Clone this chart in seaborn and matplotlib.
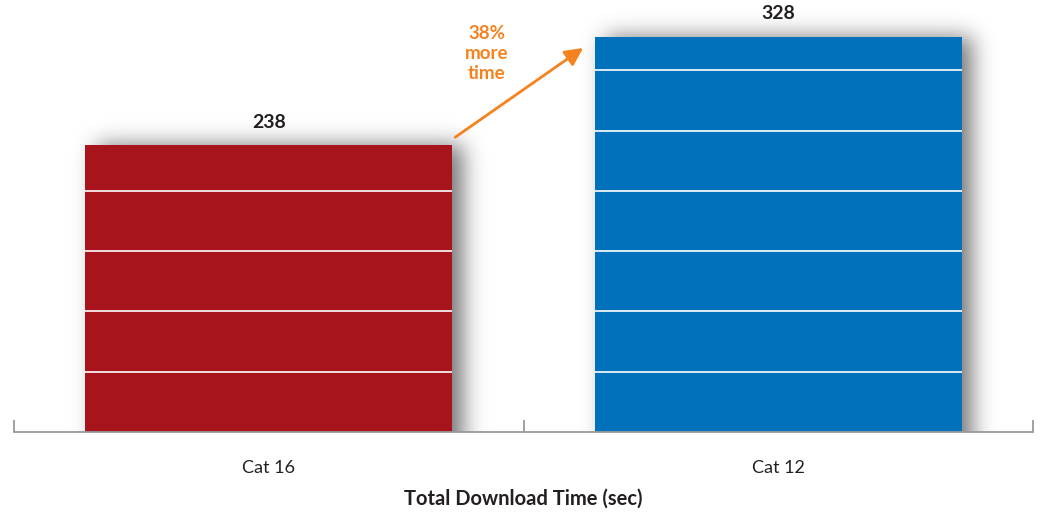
import numpy as np
import pandas as pd
import matplotlib
matplotlib.use("Agg")
import matplotlib.pyplot as plt
import seaborn as sns

# Data
categories = ["Cat 16", "Cat 12"]
download_times = [238, 328]
bar_colors = ["#A8141B", "#0071BA"]
increase_label = "38%\nmore\ntime"
x_title = "Total Download Time (sec)"

sns.set_theme(style="white")
plt.rcParams["font.family"] = ["Lato", "DejaVu Sans"]

W, H, DPI = 1044, 513, 100
fig = plt.figure(figsize=(W / DPI, H / DPI), dpi=DPI)
ax_left, ax_right, ax_bottom, ax_top = 14, 1033, 432, 10
ax = fig.add_axes([ax_left / W, (H - ax_bottom) / H,
                   (ax_right - ax_left) / W, (ax_bottom - ax_top) / H])

df = pd.DataFrame({"category": categories, "time": download_times})
bar_width = 0.72
sns.barplot(data=df, x="category", y="time", hue="category",
            palette=bar_colors, width=bar_width, legend=False,
            saturation=1, linewidth=0, edgecolor="none", ax=ax, zorder=3)

ymax = 350
ax.set_xlim(-0.5, 1.5)
ax.set_ylim(0, ymax)

# Soft drop shadow behind each bar (blurred offset rectangle)
nx, ny = ax_right - ax_left, ax_bottom - ax_top
xs = np.linspace(-0.5, 1.5, nx)
ys = np.linspace(ymax, 0, ny)
px_per_x = nx / 2.0
px_per_y = ny / ymax
mask = np.zeros((ny, nx))
off_px = 11
for i, v in enumerate(download_times):
    x0 = i - bar_width / 2 + off_px / px_per_x
    x1 = i + bar_width / 2 + off_px / px_per_x
    inside_x = (xs >= x0) & (xs <= x1)
    inside_y = ys <= v
    mask[np.ix_(inside_y, inside_x)] = 1.0

sigma = 11
k = np.arange(-3 * sigma, 3 * sigma + 1)
kern = np.exp(-0.5 * (k / sigma) ** 2)
kern /= kern.sum()
pad = 3 * sigma
padded = np.pad(mask, ((pad, 0), (pad, pad)), mode="constant")
padded = np.concatenate([padded, np.repeat(padded[-1:, :], pad, axis=0)], axis=0)
blur = np.apply_along_axis(lambda r: np.convolve(r, kern, mode="same"), 1, padded)
blur = np.apply_along_axis(lambda c: np.convolve(c, kern, mode="same"), 0, blur)
blur = blur[pad:pad + ny, pad:pad + nx]

shadow = np.zeros((ny, nx, 4))
shadow[..., :3] = 0.33
shadow[..., 3] = np.clip(blur, 0, 1) * 0.8
ax.imshow(shadow, extent=(-0.5, 1.5, 0, ymax), aspect="auto",
          zorder=1, interpolation="bilinear")

# White rules across the bars every 50 units
for i, v in enumerate(download_times):
    levels = np.arange(50, v, 50)
    ax.hlines(levels, i - bar_width / 2, i + bar_width / 2,
              colors="white", linewidth=1.2, zorder=4)

# Value labels
for i, v in enumerate(download_times):
    ax.text(i, v + 19, f"{v}", ha="center", va="center",
            fontsize=14, fontweight="bold", color="#231F20", zorder=5)

# Arrow showing the increase
orange = "#F5821F"
ax.annotate("", xy=(0.617, 318.5), xytext=(0.366, 244.5),
            arrowprops=dict(arrowstyle="-|>,head_length=0.9,head_width=0.45",
                            color=orange, lw=2.0, shrinkA=0, shrinkB=0),
            zorder=5)
ax.text(0.428, 314, increase_label, ha="center", va="center",
        fontsize=13.5, fontweight="bold", color=orange,
        linespacing=1.2, zorder=5)

# Axis styling
for side in ["top", "right", "left"]:
    ax.spines[side].set_visible(False)
ax.spines["bottom"].set_color("#999999")
ax.spines["bottom"].set_linewidth(1.3)
ax.spines["bottom"].set_zorder(6)
ax.set_yticks([])
ax.set_ylabel("")
ax.set_xticks([0, 1])
ax.set_xticklabels(categories, fontsize=13, color="#231F20")
ax.set_xticks([-0.5, 0.5, 1.5], minor=True)
ax.tick_params(axis="x", which="major", bottom=True, length=0, pad=20)
ax.tick_params(axis="x", which="minor", bottom=True, direction="in",
               length=9, width=1.3, color="#999999")
ax.set_xlabel(x_title, fontsize=14.5, fontweight="bold", color="#231F20",
              labelpad=9)
ax.set_facecolor("white")
fig.patch.set_facecolor("white")

fig.savefig("out.png", dpi=DPI, facecolor="white")
